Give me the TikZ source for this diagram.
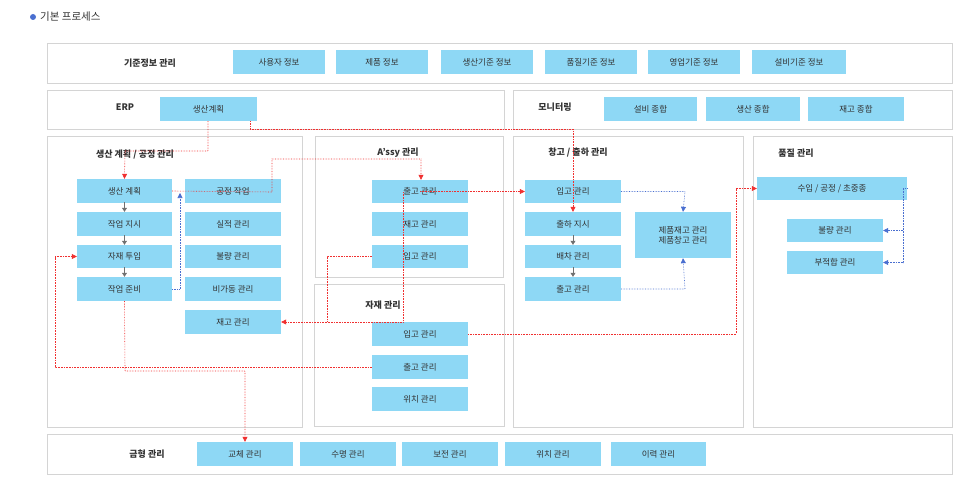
\documentclass[tikz,border=0pt]{standalone}
\usepackage{fontspec}
\setmainfont{Noto Sans CJK KR}
\usetikzlibrary{arrows.meta}
\definecolor{boxc}{HTML}{8ED8F5}
\definecolor{frc}{HTML}{D4D4D4}
\definecolor{txc}{HTML}{333333}
\definecolor{rl}{HTML}{F03030}
\definecolor{bl}{HTML}{4A6FD0}
\definecolor{gr}{HTML}{707070}
\tikzset{
 frame/.style={draw=frc,line width=0.9pt},
 bx/.style={fill=boxc,draw=none,text=txc,font=\fontsize{8.5}{10}\selectfont,inner sep=0pt,align=center},
 ttl/.style={text=txc,font=\bfseries\fontsize{9}{11}\selectfont,inner sep=0pt},
 rlink/.style={draw=rl,densely dotted,line width=0.6pt,-{Triangle[length=5pt,width=5pt]}},
 blink/.style={draw=bl,densely dotted,line width=0.6pt,-{Triangle[length=5pt,width=5pt]}},
 glink/.style={draw=gr,line width=0.5pt,-{Triangle[length=4pt,width=5pt]}},
}
\newcommand{\bxn}[6]{\node[bx,minimum width=#3-#2,minimum height=#5-#4] (#1) at ({(#2+#3)/2},{(#4+#5)/2}) {#6};}
\newcommand{\frm}[6]{\draw[frame] (#1,#3) rectangle (#2,#4); \node[ttl] (#5) at (#6) {};}
\begin{document}
\begin{tikzpicture}[x=1pt,y=-1pt]
\useasboundingbox (0,0) rectangle (966,492);
\fill[bl] (33,17) circle (3);
\node[text=txc,font=\fontsize{10.5}{12}\selectfont,anchor=west,inner sep=0pt] (hdr) at (40,17) {기본 프로세스};
% frames
\draw[frame] (47,43) rectangle (952,83);
\node[ttl] (t1) at (150,63) {기준정보 관리};
\draw[frame] (47,90) rectangle (504,129);
\node[ttl] (t2) at (125,107) {ERP};
\draw[frame] (513,90) rectangle (952,129);
\node[ttl] (t3) at (555,107) {모니터링};
\draw[frame] (47,136) rectangle (302,427);
\node[ttl] (t4) at (135,154) {생산 계획 / 공정 관리};
\draw[frame] (315,136) rectangle (503,277);
\node[ttl] (t5) at (398,153) {A'ssy 관리};
\draw[frame] (314,284) rectangle (504,426);
\node[ttl] (t6) at (383,305) {자재 관리};
\draw[frame] (513,136) rectangle (743,427);
\node[ttl] (t7) at (578,153) {창고 / 출하 관리};
\draw[frame] (753,136) rectangle (952,427);
\node[ttl] (t8) at (796,153) {품질 관리};
\draw[frame] (47,434) rectangle (952,474);
\node[ttl] (t9) at (147,454) {금형 관리};
% top row
\bxn{b1}{233}{325}{50}{74}{사용자 정보}
\bxn{b2}{336}{428}{50}{74}{제품 정보}
\bxn{b3}{441}{533}{50}{74}{생산기준 정보}
\bxn{b4}{545}{637}{50}{74}{품질기준 정보}
\bxn{b5}{648}{740}{50}{74}{영업기준 정보}
\bxn{b6}{752}{846}{50}{74}{설비기준 정보}
\bxn{erp}{160}{257}{97}{121}{생산계획}
\bxn{m1}{604}{697}{97}{121}{설비 종합}
\bxn{m2}{706}{800}{97}{121}{생산 종합}
\bxn{m3}{808}{904}{97}{121}{재고 종합}
% production
\bxn{pp1}{77}{172}{179}{203}{생산 계획}
\bxn{pp2}{77}{172}{212}{236}{작업 지시}
\bxn{pp3}{77}{172}{245}{268}{자재 투입}
\bxn{pp4}{77}{172}{277}{301}{작업 준비}
\bxn{pw1}{185}{281}{179}{203}{공정 작업}
\bxn{pw2}{185}{281}{212}{236}{실적 관리}
\bxn{pw3}{185}{281}{245}{268}{불량 관리}
\bxn{pw4}{185}{281}{277}{301}{비가동 관리}
\bxn{pinv}{185}{281}{310}{334}{재고 관리}
% assy
\bxn{ao}{372}{468}{180}{203}{출고 관리}
\bxn{ainv}{372}{468}{212}{236}{재고 관리}
\bxn{ai}{372}{468}{245}{268}{입고 관리}
% material
\bxn{mi}{372}{468}{322}{346}{입고 관리}
\bxn{mo}{372}{468}{355}{379}{출고 관리}
\bxn{ml}{372}{468}{387}{411}{위치 관리}
% warehouse
\bxn{wi}{525}{621}{180}{203}{입고 관리}
\bxn{wd}{525}{621}{212}{236}{출하 지시}
\bxn{wb}{525}{621}{245}{268}{배차 관리}
\bxn{wo}{525}{621}{277}{301}{출고 관리}
\bxn{prod}{635}{731}{212}{258}{제품재고 관리\\제품창고 관리}
% quality
\bxn{qi}{757}{907}{177}{200}{수입 / 공정 / 초중종}
\bxn{qb}{787}{883}{219}{242}{불량 관리}
\bxn{qn}{787}{883}{251}{274}{부적합 관리}
% mold
\bxn{k1}{197}{293}{442}{466}{교체 관리}
\bxn{k2}{300}{396}{442}{466}{수명 관리}
\bxn{k3}{402}{498}{442}{466}{보전 관리}
\bxn{k4}{505}{601}{442}{466}{위치 관리}
\bxn{k5}{611}{706}{442}{466}{이력 관리}
% gray arrows
\foreach \a/\b in {pp1/pp2,pp2/pp3,pp3/pp4,wd/wb,wb/wo}{\draw[glink] ([yshift=1pt]\a.south) -- (\b.north);}
% red links
\draw[rlink] (erp.south-|208,0) -- (208,151) -- (125,151) -- (pp1.north);
\draw[rlink] (erp.south-|250,0) -- (250,129) -- (573,129) -- (wd.north-|573,0);
\draw[rlink] (pp1.east) -- (272,192) -- (272,159) -- (421,159) -- (ao.north-|421,0);
\draw[rlink] (ao.center) -- (wi.west|-ao.center);
\draw[rlink] (ai.west) -- (327,256.5) -- (327,322) -- (pinv.east);
\draw[draw=rl,densely dotted,line width=0.6pt] (403,192) -- (403,322) -- (327,322);
\draw[rlink] (mi.east) -- (736,334) -- (736,188.5) -- (qi.west);
\draw[rlink] (mo.west) -- (55,367) -- (55,256.5) -- (pp3.west);
\draw[rlink] (pp4.south) -- (125,371) -- (245,371) -- (k1.north);
% blue links
\draw[blink] (pp4.east) -- (180,289) -- (180,193);
\draw[blink] (wi.east) -- (685,191.5) -- (prod.north);
\draw[blink] (wo.east) -- (685,289) -- (prod.south);
\draw[blink] (qi.east) -- (903,188.5) -- (903,230.5) -- (qb.east);
\draw[blink] (903,230.5) -- (903,262.5) -- (qn.east);
\end{tikzpicture}
\end{document}
